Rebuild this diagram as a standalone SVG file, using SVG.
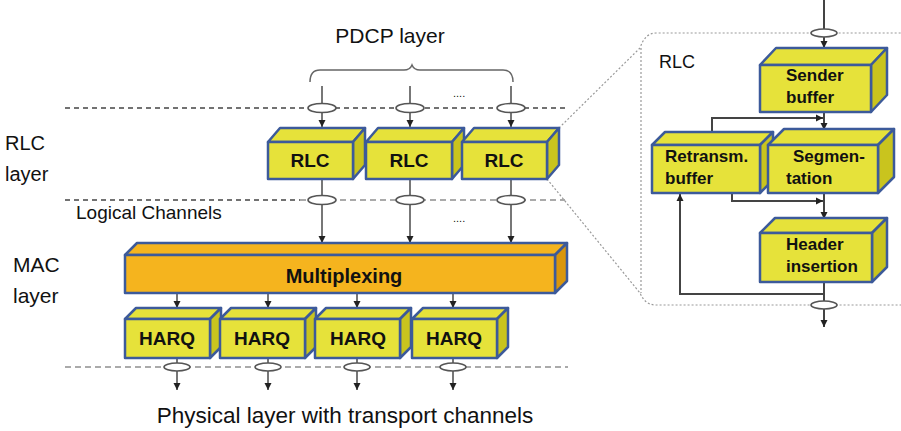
<svg xmlns="http://www.w3.org/2000/svg" width="901" height="431" viewBox="0 0 901 431">
<defs>
<marker id="ah" markerWidth="8" markerHeight="8" refX="7" refY="4" orient="auto" markerUnits="userSpaceOnUse">
<path d="M0,0.5 L7,4 L0,7.5 Z" fill="#222"/>
</marker>
<style>
text{font-family:"Liberation Sans",Arial,sans-serif;fill:#111}
.lbl{font-size:20px}
.bx{font-weight:bold}
.fy{fill:#E6E23A;stroke:#3C5A9A;stroke-width:2.5;stroke-linejoin:round}
.sy{fill:#C9C41E;stroke:#3C5A9A;stroke-width:2.5;stroke-linejoin:round}
.fo{fill:#F5B41E;stroke:#3C5A9A;stroke-width:2.5;stroke-linejoin:round}
.so{fill:#D9960C;stroke:#3C5A9A;stroke-width:2.5;stroke-linejoin:round}
.ln{stroke:#555;stroke-width:1.6;fill:none}
.lnd{stroke:#444;stroke-width:2;fill:none}
.el{fill:#fff;stroke:#555;stroke-width:1.6}
.dk{stroke:#444;stroke-width:1.5;stroke-dasharray:5 4;fill:none}
.lt{stroke:#aaa;stroke-width:2;stroke-dasharray:6 4;fill:none}
.fr{stroke:#999;stroke-width:1.2;stroke-dasharray:2 2;fill:none}
</style>
</defs>

<!-- layer labels -->
<text x="390" y="43" font-size="21" text-anchor="middle">PDCP layer</text>
<text x="5" y="150" class="lbl">RLC</text>
<text x="5" y="181" class="lbl">layer</text>
<text x="76" y="219" font-size="19">Logical Channels</text>
<text x="13" y="272" font-size="21">MAC</text>
<text x="13" y="303" font-size="21">layer</text>
<text x="345" y="423" font-size="22.5" text-anchor="middle">Physical layer with transport channels</text>
<text x="453" y="97" font-size="11">....</text>
<text x="453" y="222" font-size="11">....</text>

<!-- dashed layer borders and zoom frame -->
<g id="borders">
<line x1="65" y1="108" x2="565" y2="108" class="dk"/>
<line x1="65" y1="200" x2="300" y2="200" class="dk"/>
<line x1="300" y1="200" x2="565" y2="200" class="lt"/>
<line x1="65" y1="367" x2="568" y2="367" class="lt"/>
<path d="M559,128 L640,48 Q645,33 656,33 L901,33" class="fr"/>
<path d="M547,179 L640,293 Q645,305 656,305 L901,305" class="fr"/>
<line x1="641" y1="48" x2="641" y2="293" class="fr"/>
</g>

<g id="connectors">
<path d="M310,82 Q310,70 320,70 L404,70 Q410,70 412,65 Q414,70 420,70 L503,70 Q513,70 513,82" stroke="#666" stroke-width="1.5" fill="none"/>
<line x1="322" y1="86" x2="322" y2="127" class="ln" marker-end="url(#ah)"/>
<line x1="410" y1="86" x2="410" y2="127" class="ln" marker-end="url(#ah)"/>
<line x1="511" y1="86" x2="511" y2="127" class="ln" marker-end="url(#ah)"/>
<ellipse cx="322" cy="108" rx="14" ry="4.5" class="el"/>
<ellipse cx="410" cy="108" rx="14" ry="4.5" class="el"/>
<ellipse cx="511" cy="108" rx="14" ry="4.5" class="el"/>
<line x1="322" y1="179" x2="322" y2="243" class="ln" marker-end="url(#ah)"/>
<line x1="410" y1="179" x2="410" y2="243" class="ln" marker-end="url(#ah)"/>
<line x1="511" y1="179" x2="511" y2="243" class="ln" marker-end="url(#ah)"/>
<ellipse cx="322" cy="200" rx="14" ry="4.5" class="el"/>
<ellipse cx="410" cy="200" rx="14" ry="4.5" class="el"/>
<ellipse cx="511" cy="200" rx="14" ry="4.5" class="el"/>
<line x1="177" y1="293" x2="177" y2="308" class="ln" marker-end="url(#ah)"/>
<line x1="268" y1="293" x2="268" y2="308" class="ln" marker-end="url(#ah)"/>
<line x1="357" y1="293" x2="357" y2="308" class="ln" marker-end="url(#ah)"/>
<line x1="453" y1="293" x2="453" y2="308" class="ln" marker-end="url(#ah)"/>
<line x1="177" y1="358" x2="177" y2="390" class="ln" marker-end="url(#ah)"/>
<line x1="268" y1="358" x2="268" y2="390" class="ln" marker-end="url(#ah)"/>
<line x1="357" y1="358" x2="357" y2="390" class="ln" marker-end="url(#ah)"/>
<line x1="453" y1="358" x2="453" y2="390" class="ln" marker-end="url(#ah)"/>
<ellipse cx="177" cy="367" rx="13" ry="4" class="el"/>
<ellipse cx="268" cy="367" rx="13" ry="4" class="el"/>
<ellipse cx="357" cy="367" rx="13" ry="4" class="el"/>
<ellipse cx="453" cy="367" rx="13" ry="4" class="el"/>
<!-- right panel -->
<line x1="824" y1="0" x2="824" y2="48" class="lnd" marker-end="url(#ah)"/>
<ellipse cx="824" cy="33" rx="13" ry="4" class="el"/>
<line x1="824" y1="112" x2="824" y2="130" class="lnd" marker-end="url(#ah)"/>
<path d="M712,132 V118 H823" class="lnd" marker-end="url(#ah)"/>
<line x1="824" y1="193" x2="824" y2="219" class="lnd" marker-end="url(#ah)"/>
<path d="M732,193 V201 H823" class="lnd" marker-end="url(#ah)"/>
<line x1="824" y1="282" x2="824" y2="327" class="lnd" marker-end="url(#ah)"/>
<path d="M824,294 H680 V194" class="lnd" marker-end="url(#ah)"/>
<ellipse cx="824" cy="305" rx="13" ry="4" class="el"/>
</g>

<g id="rlc1">
<polygon points="268,142 280,128 365,128 353,142" class="fy"/>
<polygon points="353,142 365,128 365,165 353,179" class="sy"/>
<rect x="268" y="142" width="85" height="37" class="fy"/>
<text x="310" y="167" font-size="19" class="bx" text-anchor="middle">RLC</text>
</g>
<g id="rlc2">
<polygon points="366,142 378,128 464,128 452,142" class="fy"/>
<polygon points="452,142 464,128 464,165 452,179" class="sy"/>
<rect x="366" y="142" width="86" height="37" class="fy"/>
<text x="409" y="167" font-size="19" class="bx" text-anchor="middle">RLC</text>
</g>
<g id="rlc3">
<polygon points="462,142 474,128 559,128 547,142" class="fy"/>
<polygon points="547,142 559,128 559,165 547,179" class="sy"/>
<rect x="462" y="142" width="85" height="37" class="fy"/>
<text x="504" y="167" font-size="19" class="bx" text-anchor="middle">RLC</text>
</g>

<g id="multiplexing">
<polygon points="125,255 137,243 567,243 555,255" class="fo"/>
<polygon points="555,255 567,243 567,281 555,293" class="so"/>
<rect x="125" y="255" width="430" height="38" class="fo"/>
<text x="344" y="283" font-size="20" class="bx" text-anchor="middle">Multiplexing</text>
</g>

<g id="harq1">
<polygon points="125,319 136,308 221,308 210,319" class="fy"/>
<polygon points="210,319 221,308 221,347 210,358" class="sy"/>
<rect x="125" y="319" width="85" height="39" class="fy"/>
<text x="167" y="345" font-size="19" class="bx" text-anchor="middle">HARQ</text>
</g>
<g id="harq2">
<polygon points="220,319 231,308 316,308 305,319" class="fy"/>
<polygon points="305,319 316,308 316,347 305,358" class="sy"/>
<rect x="220" y="319" width="85" height="39" class="fy"/>
<text x="262" y="345" font-size="19" class="bx" text-anchor="middle">HARQ</text>
</g>
<g id="harq3">
<polygon points="315,319 326,308 411,308 400,319" class="fy"/>
<polygon points="400,319 411,308 411,347 400,358" class="sy"/>
<rect x="315" y="319" width="85" height="39" class="fy"/>
<text x="358" y="345" font-size="19" class="bx" text-anchor="middle">HARQ</text>
</g>
<g id="harq4">
<polygon points="412,319 423,308 508,308 497,319" class="fy"/>
<polygon points="497,319 508,308 508,347 497,358" class="sy"/>
<rect x="412" y="319" width="85" height="39" class="fy"/>
<text x="454" y="345" font-size="19" class="bx" text-anchor="middle">HARQ</text>
</g>

<!-- right panel -->
<text x="659" y="68" font-size="18">RLC</text>
<g id="sender-buffer">
<polygon points="760,65 776,48 887,48 871,65" class="fy"/>
<polygon points="871,65 887,48 887,95 871,112" class="sy"/>
<rect x="760" y="65" width="111" height="47" class="fy"/>
<text x="786" y="81" font-size="17" class="bx">Sender</text>
<text x="786" y="103" font-size="17" class="bx">buffer</text>
</g>
<g id="retransm-buffer">
<polygon points="652,145 665,132 773,132 760,145" class="fy"/>
<polygon points="760,145 773,132 773,180 760,193" class="sy"/>
<rect x="652" y="145" width="108" height="48" class="fy"/>
<text x="665" y="162" font-size="17" class="bx">Retransm.</text>
<text x="665" y="184" font-size="17" class="bx">buffer</text>
</g>
<g id="segmentation">
<polygon points="768,145 784,129 894,129 878,145" class="fy"/>
<polygon points="878,145 894,129 894,177 878,193" class="sy"/>
<rect x="768" y="145" width="110" height="48" class="fy"/>
<text x="793" y="162" font-size="17" class="bx">Segmen-</text>
<text x="786" y="184" font-size="17" class="bx">tation</text>
</g>
<g id="header-insertion">
<polygon points="760,233 775,218 887,218 872,233" class="fy"/>
<polygon points="872,233 887,218 887,267 872,282" class="sy"/>
<rect x="760" y="233" width="112" height="49" class="fy"/>
<text x="786" y="250" font-size="17" class="bx">Header</text>
<text x="786" y="272" font-size="17" class="bx">insertion</text>
</g>
</svg>
